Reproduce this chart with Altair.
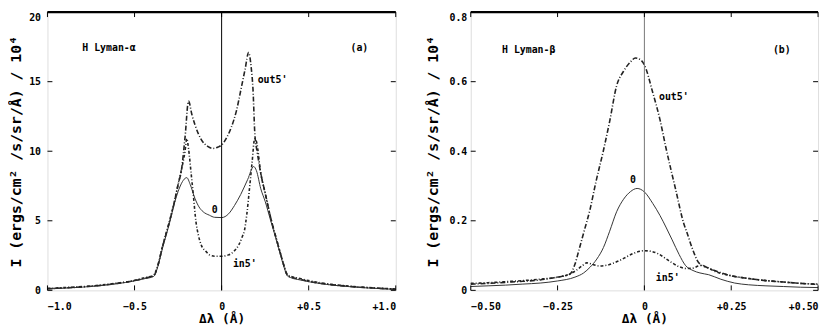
import altair as alt
import pandas as pd

MONO = "DejaVu Sans Mono"

# ---------------- Panel (a): H Lyman-alpha ----------------
a_out_x = [-1.0, -0.9, -0.8, -0.7, -0.6, -0.5, -0.45, -0.39, -0.37, -0.34, -0.3, -0.27, -0.25, -0.23,
           -0.21, -0.19, -0.17, -0.153, -0.115, -0.08, -0.05, -0.02, 0.0, 0.03, 0.055, 0.085, 0.112,
           0.135, 0.155, 0.17, 0.18, 0.191, 0.205, 0.225, 0.25, 0.282, 0.31, 0.339, 0.36, 0.377, 0.4,
           0.45, 0.5, 0.6, 0.7, 0.8, 0.9, 1.0]
a_out_y = [0.12, 0.18, 0.25, 0.35, 0.5, 0.7, 0.85, 1.05, 1.6, 3.1, 4.9, 6.4, 7.6, 8.7,
           11.0, 13.6, 12.6, 11.9, 10.8, 10.35, 10.2, 10.3, 10.45, 11.0, 11.7, 12.9, 14.5,
           15.9, 17.1, 16.0, 14.5, 11.2, 9.9, 8.4, 7.0, 5.2, 3.9, 2.6, 1.7, 1.1, 0.95,
           0.8, 0.65, 0.45, 0.32, 0.22, 0.15, 0.08]

a_zero_x = [-1.0, -0.9, -0.8, -0.7, -0.6, -0.5, -0.45, -0.39, -0.37, -0.34, -0.3, -0.27, -0.25, -0.23,
            -0.21, -0.2, -0.18, -0.153, -0.13, -0.106, -0.07, -0.04, 0.0, 0.04, 0.074, 0.11, 0.15,
            0.184, 0.2, 0.225, 0.25, 0.282, 0.31, 0.339, 0.36, 0.377, 0.4, 0.45, 0.5, 0.6, 0.7, 0.8,
            0.9, 1.0]
a_zero_y = [0.1, 0.16, 0.23, 0.33, 0.48, 0.68, 0.82, 1.0, 1.55, 3.0, 4.8, 6.3, 7.1, 7.7,
            8.05, 8.1, 7.6, 6.6, 6.0, 5.65, 5.4, 5.25, 5.23, 5.5, 6.1, 6.9, 7.98,
            8.9, 8.6, 7.3, 6.4, 5.0, 3.8, 2.5, 1.6, 1.05, 0.9, 0.75, 0.62, 0.43, 0.3, 0.2,
            0.13, 0.07]

a_in_x = [-1.0, -0.9, -0.8, -0.7, -0.6, -0.5, -0.45, -0.39, -0.37, -0.34, -0.3, -0.27, -0.25, -0.23,
          -0.21, -0.2, -0.19, -0.175, -0.162, -0.148, -0.134, -0.115, -0.09, -0.07, -0.04, 0.0,
          0.04, 0.07, 0.1, 0.12, 0.131, 0.145, 0.16, 0.175, 0.19, 0.2, 0.225, 0.25, 0.282, 0.31,
          0.339, 0.36, 0.377, 0.4, 0.45, 0.5, 0.6, 0.7, 0.8, 0.9, 1.0]
a_in_y = [0.14, 0.2, 0.27, 0.37, 0.52, 0.72, 0.88, 1.1, 1.65, 3.15, 4.95, 6.45, 7.6, 8.7,
          10.0, 10.9, 10.2, 8.4, 6.8, 5.0, 4.0, 3.2, 2.8, 2.55, 2.45, 2.45,
          2.55, 2.8, 3.3, 3.9, 4.3, 5.5, 7.3, 9.2, 10.9, 10.7, 8.4, 7.0, 5.2, 3.9,
          2.6, 1.7, 1.15, 1.0, 0.85, 0.7, 0.48, 0.34, 0.24, 0.16, 0.1]

a_xticks = [-1.0, -0.5, 0.0, 0.5, 1.0]
a_yticks = [0, 5, 10, 15, 20]
a_lab_text = ["H Lyman-\u03b1", "(a)", "out5'", "0", "in5'"]
a_lab_x = [-0.80, 0.74, 0.207, -0.04, 0.065]
a_lab_y = [17.4, 17.4, 15.1, 5.75, 1.9]
a_lab_align = ["left", "left", "left", "center", "left"]

# ---------------- Panel (b): H Lyman-beta ----------------
b_out_x = [-0.5, -0.45, -0.4, -0.35, -0.3, -0.25, -0.225, -0.213, -0.2, -0.189, -0.175, -0.156, -0.14,
           -0.118, -0.1, -0.08, -0.06, -0.04, -0.026, -0.01, 0.0, 0.024, 0.045, 0.062, 0.09, 0.114,
           0.123, 0.137, 0.156, 0.165, 0.18, 0.2, 0.25, 0.3, 0.35, 0.4, 0.45, 0.5]
b_out_y = [0.018, 0.02, 0.023, 0.026, 0.03, 0.038, 0.043, 0.048, 0.075, 0.114, 0.165, 0.235, 0.31,
           0.402, 0.486, 0.588, 0.63, 0.657, 0.668, 0.662, 0.648, 0.569, 0.49, 0.41, 0.29, 0.19,
           0.165, 0.123, 0.08, 0.072, 0.066, 0.058, 0.042, 0.034, 0.028, 0.024, 0.02, 0.017]

b_zero_x = [-0.5, -0.45, -0.4, -0.35, -0.3, -0.25, -0.2, -0.175, -0.156, -0.137, -0.118, -0.1, -0.08,
            -0.06, -0.04, -0.021, 0.0, 0.024, 0.045, 0.062, 0.08, 0.1, 0.118, 0.14, 0.16, 0.185,
            0.22, 0.26, 0.3, 0.35, 0.4, 0.45, 0.5]
b_zero_y = [0.011, 0.013, 0.015, 0.018, 0.021, 0.027, 0.038, 0.05, 0.067, 0.09, 0.123, 0.17, 0.226,
            0.262, 0.284, 0.293, 0.283, 0.25, 0.215, 0.182, 0.145, 0.103, 0.072, 0.057, 0.05, 0.045,
            0.032, 0.021, 0.016, 0.013, 0.011, 0.009, 0.008]

b_in_x = [-0.5, -0.45, -0.4, -0.35, -0.3, -0.25, -0.22, -0.2, -0.18, -0.166, -0.15, -0.13, -0.109,
          -0.09, -0.071, -0.05, -0.03, -0.01, 0.0, 0.02, 0.04, 0.062, 0.08, 0.1, 0.12, 0.14, 0.155,
          0.167, 0.18, 0.2, 0.25, 0.3, 0.35, 0.4, 0.45, 0.5]
b_in_y = [0.02, 0.022, 0.025, 0.028, 0.032, 0.038, 0.045, 0.055, 0.07, 0.079, 0.075, 0.07, 0.072,
          0.078, 0.086, 0.097, 0.107, 0.113, 0.114, 0.112, 0.105, 0.091, 0.079, 0.068, 0.063, 0.064,
          0.07, 0.072, 0.066, 0.056, 0.042, 0.034, 0.028, 0.024, 0.02, 0.018]

b_xticks = [-0.5, -0.25, 0.0, 0.25, 0.5]
b_yticks = [0.0, 0.2, 0.4, 0.6, 0.8]
b_lab_text = ["H Lyman-\u03b2", "(b)", "out5'", "0", "in5'"]
b_lab_x = [-0.41, 0.37, 0.042, -0.033, 0.033]
b_lab_y = [0.69, 0.69, 0.557, 0.317, 0.036]
b_lab_align = ["left", "left", "left", "center", "left"]

YTITLE = "I (ergs/cm\u00b2 /s/sr/\u00c5) / 10\u2074"
XTITLE = "\u0394\u03bb (\u00c5)"


def panel(series, xdom, ydom, xticks, yticks, xexpr, yexpr, labs, zero_color, W, H,
          ylabpad, ytitlepad):
    top_val = ydom[1]
    xs = alt.Scale(domain=xdom, nice=False, zero=False)
    ys = alt.Scale(domain=ydom, nice=False, zero=False)
    xaxis = alt.Axis(values=xticks, labelExpr=xexpr, ticks=False, grid=False,
                     domain=False, labelPadding=11, titlePadding=2,
                     labelFont=MONO, labelFontSize=10, labelFontWeight="bold", labelColor="black",
                     titleFont=MONO, titleFontSize=13, titleFontWeight="bold",
                     titleColor="black")
    yaxis = alt.Axis(values=yticks, labelExpr=yexpr, ticks=False, grid=False,
                     domain=False, labelPadding=ylabpad, titlePadding=ytitlepad,
                     labelBaseline={"condition": {"test": f"datum.value >= {top_val}",
                                                  "value": "top"},
                                    "value": "middle"},
                     labelFont=MONO, labelFontSize=10, labelFontWeight="bold", labelColor="black",
                     titleFont=MONO, titleFontSize=15, titleFontWeight="bold",
                     titleColor="black")

    def X(field="x"):
        return alt.X(f"{field}:Q", scale=xs, title=XTITLE, axis=xaxis)

    def Y(field="y"):
        return alt.Y(f"{field}:Q", scale=ys, title=YTITLE, axis=yaxis)

    layers = []
    for xv, yv, dash, sw, col in series:
        df = pd.DataFrame({"x": xv, "y": yv})
        mk = dict(color=col, strokeWidth=sw, interpolate="monotone")
        if dash:
            mk["strokeDash"] = dash
        layers.append(alt.Chart(df).mark_line(**mk).encode(x=X(), y=Y()))

    # vertical line at zero
    layers.append(alt.Chart(pd.DataFrame({"x": [0.0]})).mark_rule(color=zero_color, strokeWidth=1)
                  .encode(x=X()))
    # inward ticks
    ydf = pd.DataFrame({"y": yticks})
    xdf = pd.DataFrame({"x": xticks})
    layers.append(alt.Chart(ydf).mark_rule(color="black").encode(
        y=Y(), x=alt.value(0), x2=alt.value(5)))
    layers.append(alt.Chart(ydf).mark_rule(color="black").encode(
        y=Y(), x=alt.value(W - 5), x2=alt.value(W)))
    layers.append(alt.Chart(xdf).mark_rule(color="black").encode(
        x=X(), y=alt.value(H - 5), y2=alt.value(H)))
    layers.append(alt.Chart(xdf).mark_rule(color="black").encode(
        x=X(), y=alt.value(0), y2=alt.value(5)))
    # thick top frame
    layers.append(alt.Chart(pd.DataFrame({"k": [0]})).mark_rule(color="black", strokeWidth=2.5)
                  .encode(x=alt.value(0), x2=alt.value(W), y=alt.value(0)))
    # text labels
    txt, lx, ly, la = labs
    for t, x0, y0, al in zip(txt, lx, ly, la):
        layers.append(alt.Chart(pd.DataFrame({"x": [x0], "y": [y0], "t": [t]}))
                      .mark_text(align=al, baseline="middle", font=MONO, fontSize=10,
                                 fontWeight="bold", color="black")
                      .encode(x=X(), y=Y(), text="t:N"))
    return alt.layer(*layers).properties(width=W, height=H)


DOTDASH = [5, 2, 1, 2]
INDASH = [3, 2, 1, 2]

left = panel(
    [(a_out_x, a_out_y, DOTDASH, 1.6, "#222"),
     (a_zero_x, a_zero_y, None, 1.0, "#333"),
     (a_in_x, a_in_y, INDASH, 1.6, "#222")],
    [-1.0, 1.0], [0, 20], a_xticks, a_yticks,
    "datum.value > 0 ? '+' + format(datum.value, '.1f') : (datum.value == 0 ? '0' : format(datum.value, '.1f'))",
    "format(datum.value, 'd')",
    (a_lab_text, a_lab_x, a_lab_y, a_lab_align), "black", 353, 282, 7, 5)

right = panel(
    [(b_out_x, b_out_y, DOTDASH, 1.6, "#222"),
     (b_zero_x, b_zero_y, None, 1.0, "#333"),
     (b_in_x, b_in_y, INDASH, 1.6, "#222")],
    [-0.5, 0.5], [0, 0.8], b_xticks, b_yticks,
    "datum.value > 0 ? '+' + format(datum.value, '.2f') : (datum.value == 0 ? '0' : format(datum.value, '.2f'))",
    "datum.value == 0 ? '0' : format(datum.value, '.1f')",
    (b_lab_text, b_lab_x, b_lab_y, b_lab_align), "#777", 352, 282, 4, 9)

chart = alt.hconcat(left, right, spacing=25).properties(
    padding={"left": 0, "top": 0, "right": 0, "bottom": 0}
).configure_view(stroke="black", strokeWidth=1).configure(background="white")

chart.save("out.html", embed_options={"renderer": "svg", "actions": False})
